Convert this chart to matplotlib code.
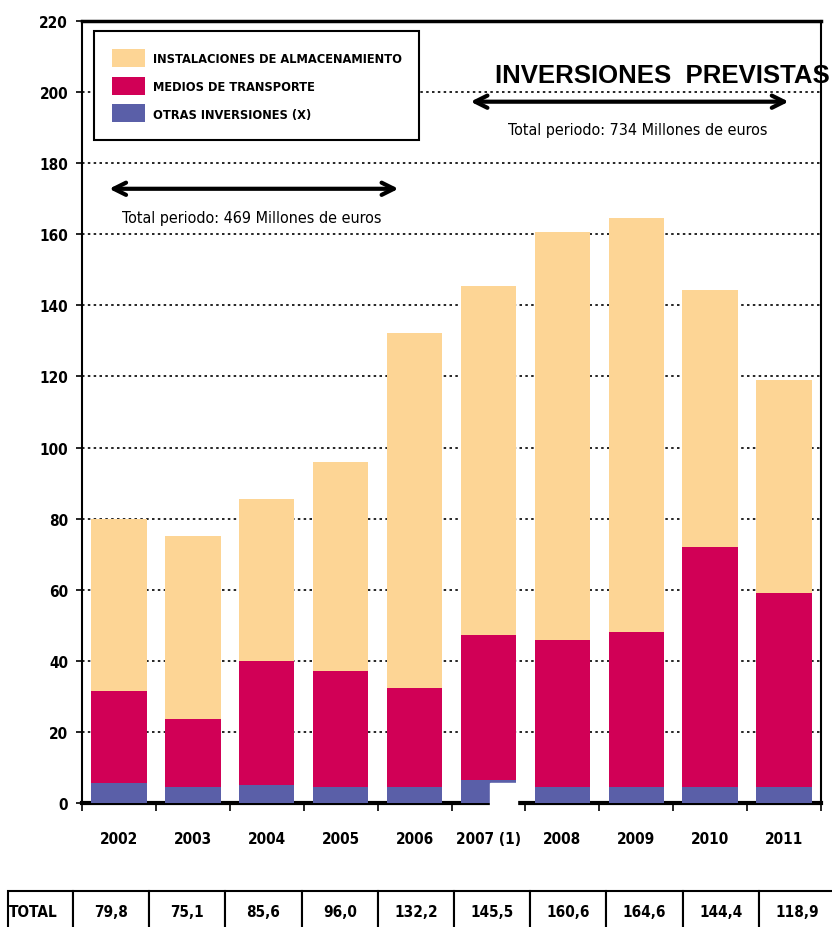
import matplotlib
matplotlib.use("Agg")
import matplotlib.pyplot as plt
from matplotlib import font_manager as fm
import numpy as np

years = ["2002", "2003", "2004", "2005", "2006", "2007 (1)", "2008", "2009", "2010", "2011"]
totals = [79.8, 75.1, 85.6, 96.0, 132.2, 145.5, 160.6, 164.6, 144.4, 118.9]
otras = [5.5, 4.6, 5.1, 4.6, 4.6, 6.4, 4.6, 4.6, 4.6, 4.6]
medios = [25.9, 19.1, 34.9, 32.4, 27.7, 40.8, 41.2, 43.4, 67.4, 54.4]
instalaciones = [t - o - m for t, o, m in zip(totals, otras, medios)]
series_labels = ["INSTALACIONES DE ALMACENAMIENTO", "MEDIOS DE TRANSPORTE", "OTRAS INVERSIONES (X)"]
yticks = list(range(0, 221, 20))


def find_narrow(bold):
    cands = []
    for f in fm.fontManager.ttflist:
        n = (f.name + " " + f.fname).lower()
        if ("narrow" in n or "condensed" in n or f.stretch in ("condensed", "semi-condensed", "extra-condensed")) \
                and "mono" not in n and "serif" not in n.replace("sans", ""):
            wt = f.weight if isinstance(f.weight, int) else (700 if "bold" in str(f.weight) else 400)
            if "italic" in n or f.style != "normal":
                continue
            score = abs(wt - (700 if bold else 400))
            cands.append((score, f.fname))
    if cands:
        cands.sort()
        return fm.FontProperties(fname=cands[0][1])
    return None


nb = find_narrow(True)
nr = find_narrow(False)
names = {f.name for f in fm.fontManager.ttflist}
wide = "Liberation Sans" if "Liberation Sans" in names else "DejaVu Sans"
have_narrow = nb is not None


def fp(size, bold):
    if have_narrow:
        p = (nb if bold else nr).copy()
        p.set_size(size)
        return p
    return fm.FontProperties(family=wide, weight="bold" if bold else "normal", size=size * 0.85)


c_inst = "#FDD595"
c_med = "#D10056"
c_otr = "#5A5FA8"

fig = plt.figure(figsize=(8.32, 9.28), dpi=100)
ax = fig.add_axes([82/832, 1-804/928, (821-82)/832, (804-22)/928])

x = np.arange(len(years))
w = 0.75
b1 = ax.bar(x, otras, w, color=c_otr, zorder=3, label=series_labels[2])
b2 = ax.bar(x, medios, w, bottom=otras, color=c_med, zorder=3, label=series_labels[1])
bot3 = [o + m for o, m in zip(otras, medios)]
b3 = ax.bar(x, instalaciones, w, bottom=bot3, color=c_inst, zorder=3, label=series_labels[0])

# white artefact patch on the 2007 bar
ax.add_patch(plt.Rectangle((5.02, -0.8), 0.36, 6.4, color="white", zorder=6, clip_on=False))

ax.set_xlim(-0.5, len(years) - 0.5)
ax.set_ylim(0, 220)
ax.set_yticks(yticks)
ax.set_yticklabels([str(v) for v in yticks], fontproperties=fp(11, True))
ax.yaxis.grid(True, linestyle=(0, (1.5, 2)), color="black", linewidth=1.2, zorder=0)
ax.set_axisbelow(True)

ax.set_xticks(np.arange(-0.5, len(years), 1.0))
ax.set_xticklabels([])
ax.set_xticks(x, minor=True)
ax.set_xticklabels(years, minor=True, fontproperties=fp(11, True))
ax.tick_params(axis="x", which="minor", length=0, pad=20)
ax.tick_params(axis="x", which="major", length=6, width=1.2, direction="out")
ax.tick_params(axis="y", length=4, width=1.2, direction="out", pad=6)

for s in ["left", "right"]:
    ax.spines[s].set_linewidth(1.5)
ax.spines["top"].set_linewidth(2.5)
ax.spines["bottom"].set_linewidth(3)

leg = ax.legend(handles=[b3, b2, b1], labels=series_labels, loc="upper left",
                bbox_to_anchor=(0.016, 0.987), borderaxespad=0, frameon=True, fancybox=False,
                edgecolor="black", prop=fp(9.2, True),
                handlelength=2.6, handleheight=1.8, labelspacing=0.75, borderpad=1.4,
                handletextpad=0.6, framealpha=1)
leg.get_frame().set_linewidth(1.5)
leg.set_zorder(8)

# arrows and annotations
ax.annotate("", xy=(-0.17, 172.8), xytext=(3.82, 172.8),
            arrowprops=dict(arrowstyle="<->", lw=3, color="black", mutation_scale=22))
ax.text(1.8, 164.8, "Total periodo: 469 Millones de euros", ha="center", va="center",
        fontproperties=fp(11.5, False))
ax.annotate("", xy=(4.72, 197.3), xytext=(9.1, 197.3),
            arrowprops=dict(arrowstyle="<->", lw=3, color="black", mutation_scale=22))
ax.text(7.02, 189.6, "Total periodo: 734 Millones de euros", ha="center", va="center",
        fontproperties=fp(11.5, False))
ax.text(7.35, 204.8, "INVERSIONES  PREVISTAS", ha="center", va="center",
        fontfamily=wide, fontweight="bold", fontsize=18.5, clip_on=False, zorder=7)

# table of totals
tax = fig.add_axes([8/832, 1 - 934/928, (835-8)/832, 42/928])
tax.axis("off")
cells = [["TOTAL"] + [f"{t:.1f}".replace(".", ",") for t in totals]]
cw = [65] + [76.2] * len(totals)
tw = sum(cw)
tbl = tax.table(cellText=cells, colWidths=[c / tw for c in cw], bbox=[0, 0, 1, 1], cellLoc="center")
tbl.auto_set_font_size(False)
for (r, c), cell in tbl.get_celld().items():
    cell.set_linewidth(1.5)
    cell.get_text().set_fontproperties(fp(11, True))
    if c == 0:
        cell._loc = "left"
        cell.PAD = 0.02
        cell.get_text().set_ha("left")

fig.savefig("out.png", dpi=100)
